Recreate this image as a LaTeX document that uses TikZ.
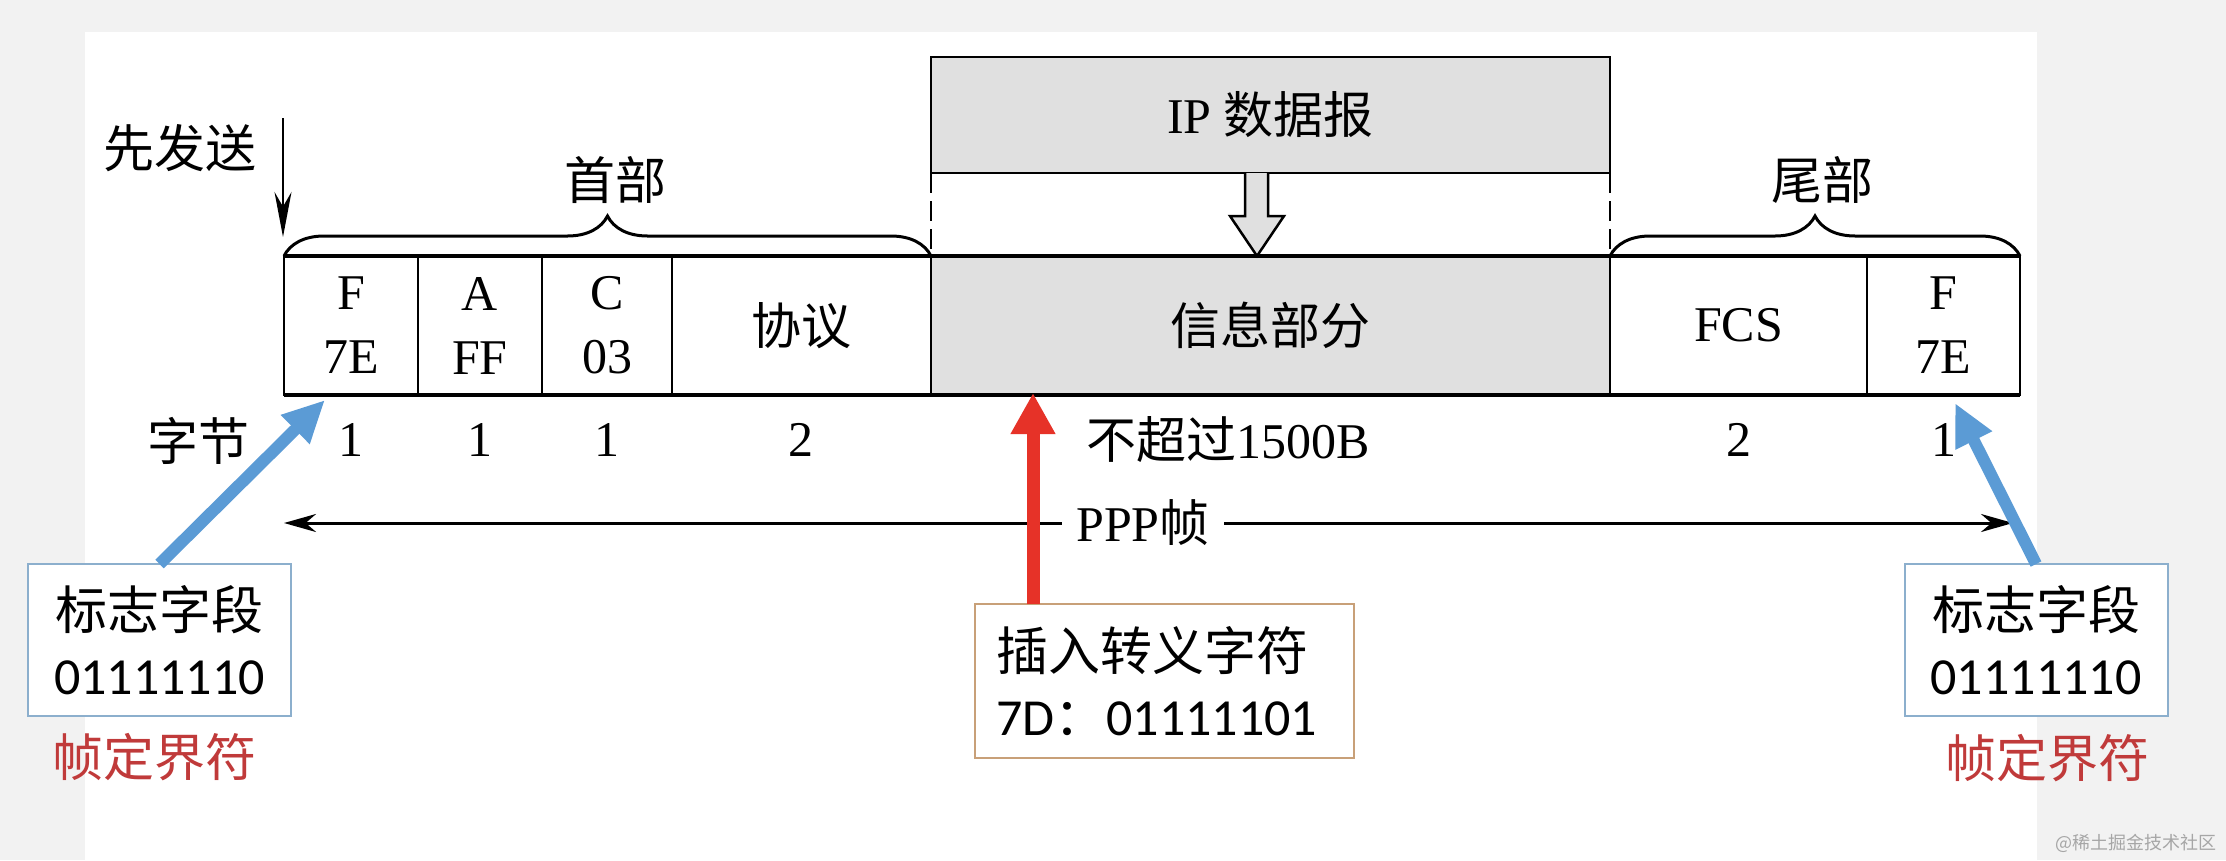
\documentclass[tikz,border=0pt]{standalone}
\usepackage{fontspec}
\setmainfont{Liberation Serif}
\newfontfamily\cjk{Noto Sans CJK SC}
\newfontfamily\calib{Carlito}
\usetikzlibrary{arrows.meta,decorations.pathreplacing,calc}
\definecolor{bggray}{RGB}{242,242,242}
\definecolor{boxgray}{RGB}{224,224,224}
\definecolor{flagblue}{RGB}{91,155,213}
\definecolor{flagborder}{RGB}{140,175,205}
\definecolor{escred}{RGB}{230,50,40}
\definecolor{escborder}{RGB}{200,160,120}
\definecolor{labelred}{RGB}{192,58,58}
\begin{document}
\begin{tikzpicture}[x=1pt,y=-1pt,
  every node/.style={inner sep=0pt, outer sep=0pt},
  lat/.style={font=\fontsize{50}{64}\selectfont},
  cn/.style={font=\fontsize{51}{64}\selectfont\cjk},
  cell/.style={draw, line width=2.5pt, minimum height=139pt, align=center, font=\fontsize{50}{64}\selectfont},
  frameline/.style={line width=3.5pt},
  bracestyle/.style={line width=3pt, decorate, decoration={brace, amplitude=40pt}},
  flagbox/.style={draw=flagborder, line width=2pt, fill=white, minimum width=263pt, minimum height=152pt, align=center, font=\fontsize{52}{65}\selectfont},
  bluearrow/.style={flagblue, line width=12pt, -{Triangle[length=42pt,width=38pt]}},
  redarrow/.style={escred, line width=13pt, -{Triangle[length=41pt,width=42pt]}},
  thinarrow/.style={line width=2.5pt, -{Stealth[length=45pt,width=17pt]}},
  ppparrow/.style={line width=3pt, {Stealth[length=32pt,width=18pt]}-{Stealth[length=32pt,width=18pt]}},
]
\useasboundingbox (0,0) rectangle (2226,860);
\fill[bggray] (0,0) rectangle (2226,860);
\fill[white] (85,32) rectangle (2037,860);

% IP datagram
\node[draw, line width=2.5pt, fill=boxgray, minimum width=679pt, minimum height=116pt, lat] (ip) at (1270.5,115) {IP {\cjk 数据报}};

% frame cells
\node[cell, minimum width=134pt] (f1) at (351,325.5) {F\\7E};
\node[cell, minimum width=124pt] (a) at (480,325.5) {A\\FF};
\node[cell, minimum width=130pt] (c) at (607,325.5) {C\\03};
\node[cell, minimum width=259pt] (proto) at (801.5,325.5) {{\cjk 协议}};
\node[cell, minimum width=679pt, fill=boxgray] (info) at (1270.5,325.5) {{\cjk 信息部分}};
\node[cell, minimum width=257pt] (fcs) at (1738.5,325.5) {FCS};
\node[cell, minimum width=153pt] (f2) at (1943.5,325.5) {F\\7E};
\draw[frameline] (f1.north west) -- (f2.north east);
\draw[frameline] (f1.south west) -- (f2.south east);

% dashed guides and hollow arrow
\draw[line width=2.5pt, dash pattern=on 20pt off 8pt] (ip.south west) -- (info.north west);
\draw[line width=2.5pt, dash pattern=on 20pt off 8pt] (ip.south east) -- (info.north east);
\draw[line width=2.5pt, fill=boxgray, line join=miter]
  (1245,173) -- (1245,216) -- (1230,216) -- (1257,256) -- (1284,216) -- (1268,216) -- (1268,173);

% braces
\draw[bracestyle] (f1.north west) -- (proto.north east);
\draw[bracestyle] (fcs.north west) -- (f2.north east);
\node[cn] (hdr) at (615,180) {首部};
\node[cn] (tlr) at (1822,180) {尾部};

% send first
\node[cn] (first) at (180,148) {先发送};
\coordinate (fa) at (283,118);
\coordinate (fb) at (283,237);
\draw[thinarrow] (fa) -- (fb);

% byte counts
\node[cn] (bytes) at (198,441) {字节};
\node[lat] (n1) at (351,440) {1};
\node[lat] (n2) at (480,440) {1};
\node[lat] (n3) at (607,440) {1};
\node[lat] (n4) at (801,440) {2};
\node[lat] (n5) at (1228,440) {{\cjk 不超过}1500B};
\node[lat] (n6) at (1739,440) {2};
\node[lat] (n7) at (1944,440) {1};

% PPP frame arrow
\coordinate (pl) at (284,523);
\coordinate (pr) at (2013,523);
\draw[ppparrow] (pl) -- (pr);
\node[lat, fill=white, inner xsep=14pt, inner ysep=4pt] (ppp) at (1143,523) {PPP{\cjk 帧}};

% annotation boxes
\node[flagbox] (flagL) at (159.5,640) {{\cjk 标志字段}\\{\calib 01111110}};
\node[cn, text=labelred] (delimL) at (154,757) {帧定界符};
\node[flagbox] (flagR) at (2036,640) {{\cjk 标志字段}\\{\calib 01111110}};
\node[cn, text=labelred] (delimR) at (2047,758) {帧定界符};
\node[draw=escborder, line width=2pt, fill=white, minimum width=379pt, minimum height=154pt, text width=337pt, inner xsep=21pt, align=left, font=\fontsize{52}{65}\selectfont] (esc) at (1164.5,681)
  {{\cjk 插入转义字符}\\{\calib 7D}{\cjk ：}{\calib 01111101}};

% pointer arrows
\coordinate (tipL) at (325,400);
\coordinate (tipR) at (1955,403);
\coordinate (escTop) at (1033,604);
\coordinate (tipM) at (1033,393);
\draw[bluearrow] (flagL.north) -- (tipL);
\draw[bluearrow] (flagR.north) -- (tipR);
\draw[redarrow] (escTop) -- (tipM);

% watermark
\node[font=\fontsize{18}{20}\selectfont\cjk, text=black!35] (wm) at (2136,843) {@稀土掘金技术社区};
\end{tikzpicture}
\end{document}
